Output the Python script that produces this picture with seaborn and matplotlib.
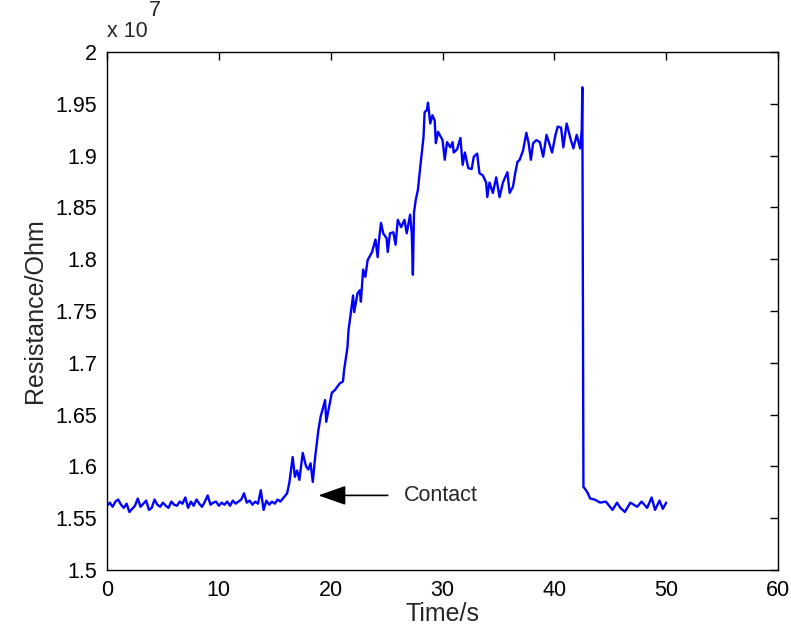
import matplotlib
matplotlib.use("Agg")
import matplotlib.pyplot as plt
import numpy as np
import pandas as pd
import seaborn as sns

# resistance in units of 1e7 Ohm
base_time = [0.0, 0.25, 0.5, 0.75, 1.0, 1.25, 1.5, 1.75, 2.0, 2.25,
             2.5, 2.75, 3.0, 3.25, 3.5, 3.75, 4.0, 4.25, 4.5, 4.75,
             5.0, 5.25, 5.5, 5.75, 6.0, 6.25, 6.5, 6.75, 7.0, 7.25,
             7.5, 7.75, 8.0, 8.25, 8.5, 8.75, 9.0, 9.25, 9.5, 9.75,
             10.0, 10.25, 10.5, 10.75, 11.0, 11.25, 11.5, 11.75, 12.0, 12.25,
             12.5, 12.75, 13.0, 13.25, 13.5, 13.75, 14.0, 14.25, 14.5, 14.75,
             15.0, 15.25, 15.5]
base_res = [1.562, 1.565, 1.561, 1.566, 1.568, 1.563, 1.560, 1.564, 1.556, 1.559,
            1.562, 1.569, 1.561, 1.564, 1.567, 1.558, 1.560, 1.568, 1.563, 1.561,
            1.565, 1.562, 1.560, 1.566, 1.563, 1.562, 1.566, 1.564, 1.570, 1.560,
            1.566, 1.562, 1.568, 1.564, 1.561, 1.566, 1.572, 1.563, 1.565, 1.566,
            1.562, 1.565, 1.563, 1.566, 1.562, 1.567, 1.564, 1.566, 1.568, 1.574,
            1.565, 1.567, 1.563, 1.566, 1.564, 1.577, 1.558, 1.567, 1.563, 1.566,
            1.564, 1.568, 1.566]

rise_time = [15.8, 16.1, 16.3, 16.6, 16.8, 17.0, 17.2, 17.5, 17.8, 18.0,
             18.2, 18.4, 18.6, 18.9, 19.1, 19.3, 19.5, 19.6, 19.8, 20.1,
             20.4, 20.8, 21.1, 21.2, 21.5, 21.6, 21.8, 22.0, 22.1, 22.4,
             22.6, 22.7, 22.9, 23.1, 23.3, 23.7, 24.0, 24.2, 24.3, 24.5,
             24.7, 25.0, 25.1, 25.3, 25.6, 25.8, 26.0, 26.3, 26.6, 26.8,
             27.1, 27.25, 27.35, 27.45, 27.6, 27.8, 28.0, 28.3, 28.4, 28.6]
rise_res = [1.570, 1.574, 1.584, 1.609, 1.590, 1.596, 1.587, 1.613, 1.600, 1.597,
            1.603, 1.585, 1.608, 1.635, 1.648, 1.656, 1.664, 1.643, 1.654, 1.671,
            1.674, 1.680, 1.682, 1.693, 1.715, 1.732, 1.748, 1.765, 1.749, 1.767,
            1.770, 1.759, 1.790, 1.783, 1.799, 1.807, 1.819, 1.802, 1.817, 1.835,
            1.825, 1.820, 1.807, 1.825, 1.826, 1.814, 1.838, 1.831, 1.838, 1.825,
            1.843, 1.825, 1.785, 1.845, 1.857, 1.867, 1.888, 1.918, 1.942, 1.944]

top_time = [28.7, 28.9, 29.1, 29.3, 29.4, 29.6, 30.0, 30.2, 30.4, 30.7,
            30.9, 31.0, 31.3, 31.6, 31.8, 32.0, 32.3, 32.6, 32.8, 33.1,
            33.3, 33.6, 33.9, 34.0, 34.2, 34.5, 34.8, 35.1, 35.4, 35.8,
            36.0, 36.3, 36.5, 36.7, 36.9, 37.2, 37.5, 37.7, 37.9, 38.1,
            38.4, 38.7, 39.0, 39.3, 39.6, 39.8, 40.1, 40.3, 40.6, 40.8,
            41.1, 41.4, 41.7, 42.0, 42.3, 42.45, 42.5]
top_res = [1.951, 1.931, 1.939, 1.934, 1.912, 1.923, 1.915, 1.896, 1.913, 1.908,
           1.913, 1.903, 1.906, 1.917, 1.891, 1.903, 1.888, 1.887, 1.899, 1.902,
           1.883, 1.881, 1.874, 1.860, 1.874, 1.864, 1.879, 1.860, 1.874, 1.884,
           1.864, 1.870, 1.883, 1.894, 1.896, 1.905, 1.922, 1.912, 1.896, 1.912,
           1.915, 1.913, 1.899, 1.920, 1.910, 1.903, 1.920, 1.928, 1.927, 1.908,
           1.931, 1.918, 1.907, 1.920, 1.907, 1.925, 1.966]

tail_time = [42.6, 42.7, 43.0, 43.2, 43.6, 44.1, 44.6, 45.2, 45.6, 45.9,
             46.3, 46.8, 47.4, 47.8, 48.3, 48.7, 49.0, 49.4, 49.7, 50.0]
tail_res = [1.580, 1.579, 1.574, 1.569, 1.568, 1.565, 1.566, 1.558, 1.565, 1.560,
            1.556, 1.565, 1.561, 1.566, 1.560, 1.570, 1.558, 1.567, 1.559, 1.565]

df = pd.DataFrame({
    "t": base_time + rise_time + top_time + tail_time,
    "r": base_res + rise_res + top_res + tail_res,
})

sns.set_style("white")
plt.rcParams['font.family'] = ['Liberation Sans', 'DejaVu Sans']

fig = plt.figure(figsize=(7.91, 6.36), dpi=100)
ax = fig.add_axes([0.1353, 0.1038, 0.8483, 0.8144])
sns.lineplot(data=df, x="t", y="r", sort=False, color="#0000ff", lw=1.7, ax=ax)

ax.set_xlim(0, 60)
ax.set_ylim(1.5, 2.0)
ax.set_xticks([0, 10, 20, 30, 40, 50, 60])
ax.set_yticks([1.5, 1.55, 1.6, 1.65, 1.7, 1.75, 1.8, 1.85, 1.9, 1.95, 2.0])
ax.set_yticklabels(["1.5", "1.55", "1.6", "1.65", "1.7", "1.75", "1.8",
                    "1.85", "1.9", "1.95", "2"])
ax.tick_params(direction="in", length=6, width=1, top=True, right=True,
               labelsize=15.5, colors="black", pad=7)
for s in ax.spines.values():
    s.set_visible(True)
    s.set_color("black")
    s.set_linewidth(1)
ax.set_xlabel("Time/s", fontsize=18, labelpad=1)
ax.set_ylabel("Resistance/Ohm", fontsize=18, labelpad=6)

# MATLAB-style exponent label sitting above the axes
ax.text(0.0, 1.029, "x 10", transform=ax.transAxes, fontsize=15.5,
        ha="left", va="baseline")
ax.text(0.062, 1.069, "7", transform=ax.transAxes, fontsize=15.5,
        ha="left", va="baseline")

ax.annotate("", xy=(18.9, 1.572), xytext=(25.1, 1.572),
            arrowprops=dict(arrowstyle="-|>,head_length=0.85,head_width=0.3",
                            color="black", lw=1.2, mutation_scale=20,
                            shrinkA=0, shrinkB=0))
ax.text(26.5, 1.572, "Contact", fontsize=15.5, ha="left", va="center")

fig.savefig("out.png", dpi=100)
